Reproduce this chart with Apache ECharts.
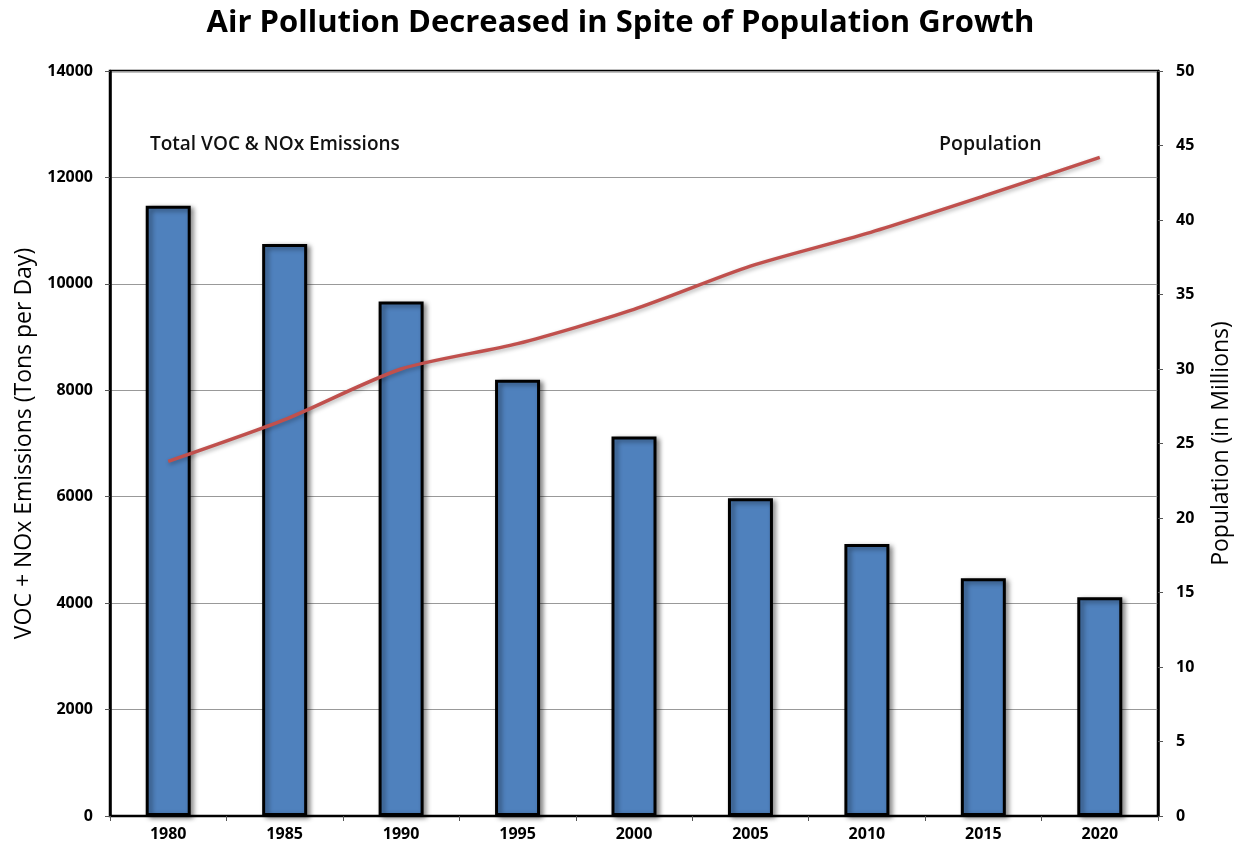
<!DOCTYPE html>
<html><head><meta charset="utf-8">
<script src="https://cdn.jsdelivr.net/npm/echarts@6/dist/echarts.min.js"></script>
<style>html,body{margin:0;padding:0;background:#fff}#c{width:1241px;height:850px}</style>
</head><body><div id="c"></div>
<script>
const years = ['1980','1985','1990','1995','2000','2005','2010','2015','2020'];
const emissions = [11470, 10750, 9670, 8200, 7130, 5970, 5110, 4470, 4110];
const population = [23.8, 26.6, 30.0, 31.7, 34.0, 36.9, 39.1, 41.6, 44.2];
const titleText = 'Air Pollution Decreased in Spite of Population Growth';
const leftName = 'VOC + NOx Emissions (Tons per Day)';
const rightName = 'Population (in Millions)';
const noteEmissions = 'Total VOC & NOx Emissions';
const notePopulation = 'Population';

const FONT = '"Open Sans", "DejaVu Sans", sans-serif';
const chart = echarts.init(document.getElementById('c'));
chart.setOption({
  animation: false,
  backgroundColor: '#fff',
  title: {
    text: titleText, left: 'center', top: 3,
    textStyle: { fontFamily: FONT, fontWeight: 'bold', fontSize: 31, color: '#000' }
  },
  grid: { left: 110, right: 78, top: 71, bottom: 34, show: true, borderColor: '#000', borderWidth: 2.5, backgroundColor: 'transparent' },
  xAxis: {
    type: 'category', data: years,
    axisLine: { lineStyle: { color: '#000', width: 2 } },
    axisTick: { show: true, length: 5, lineStyle: { color: '#555' } },
    axisLabel: { fontFamily: FONT, fontWeight: 'bold', fontSize: 16, color: '#000', margin: 10 }
  },
  yAxis: [
    {
      type: 'value', min: 0, max: 14000, interval: 2000,
      name: leftName, nameLocation: 'middle', nameGap: 72, nameRotate: 90,
      nameTextStyle: { fontFamily: FONT, fontSize: 23, color: '#000' },
      axisLine: { show: true, lineStyle: { color: '#000', width: 2.5 } },
      axisTick: { show: true, length: 5, lineStyle: { color: '#555' } },
      axisLabel: { fontFamily: FONT, fontWeight: 'bold', fontSize: 16, color: '#000', margin: 17, formatter: v => String(v) },
      splitLine: { show: true, lineStyle: { color: '#999', width: 1 } }
    },
    {
      type: 'value', min: 0, max: 50, interval: 5, position: 'right',
      name: rightName, nameLocation: 'middle', nameGap: 52, nameRotate: 90,
      nameTextStyle: { fontFamily: FONT, fontSize: 23, color: '#000' },
      axisLine: { show: true, lineStyle: { color: '#000', width: 2.5 } },
      axisTick: { show: true, length: 5, lineStyle: { color: '#555' } },
      axisLabel: { fontFamily: FONT, fontWeight: 'bold', fontSize: 16, color: '#000', margin: 18, formatter: v => String(v) },
      splitLine: { show: false }
    }
  ],
  series: [
    {
      type: 'bar', data: emissions, yAxisIndex: 0, barWidth: 45,
      itemStyle: { color: '#4F81BD', borderColor: '#000', borderWidth: 3,
        shadowColor: 'rgba(0,0,0,0.45)', shadowBlur: 5, shadowOffsetX: 3, shadowOffsetY: 2 }
    },
    {
      type: 'line', data: population, yAxisIndex: 1, smooth: 0.25, symbol: 'none',
      lineStyle: { color: '#C0504D', width: 3.5, shadowColor: 'rgba(0,0,0,0.3)', shadowBlur: 4, shadowOffsetX: 1, shadowOffsetY: 2 },
      z: 5
    }
  ],
  graphic: [
    { type: 'text', left: 150, top: 135, style: { text: noteEmissions, font: '600 19px ' + FONT, fill: '#111' } },
    { type: 'text', left: 939, top: 134, style: { text: notePopulation, font: '600 19.5px ' + FONT, fill: '#111' } }
  ]
});
</script></body></html>
